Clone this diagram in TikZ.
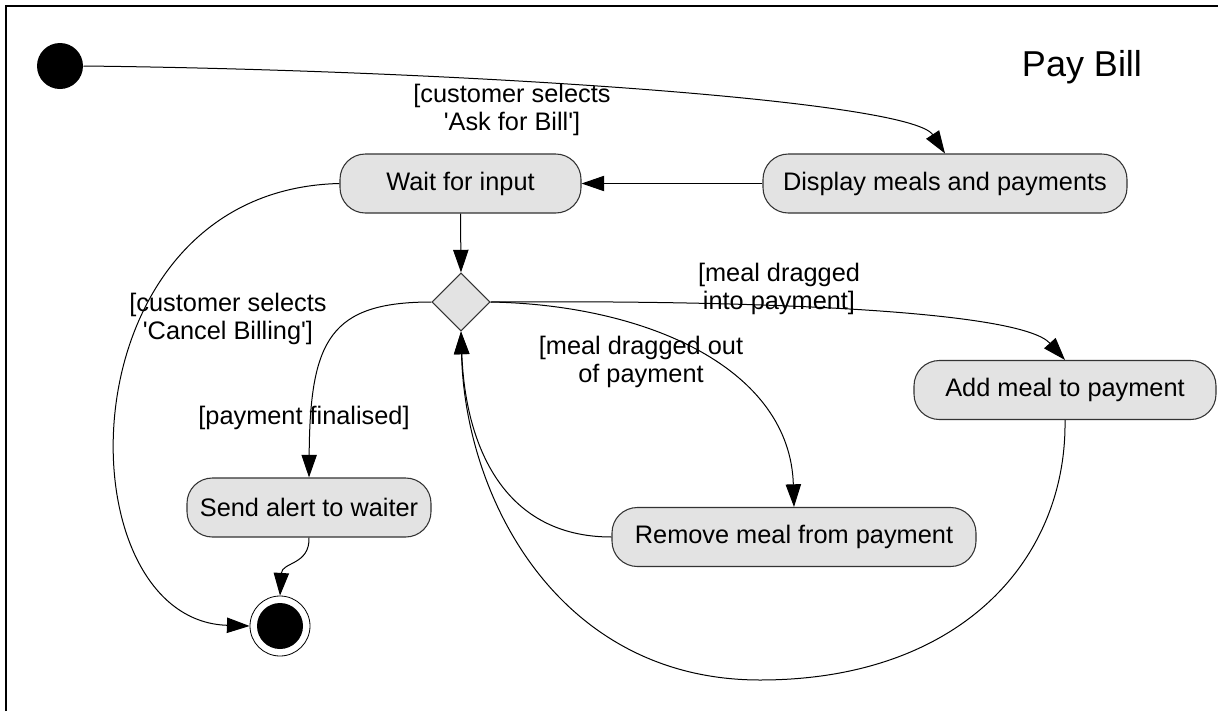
\documentclass[tikz,border=0pt]{standalone}
\usepackage{fontspec}
\setmainfont{Liberation Sans}
\usetikzlibrary{arrows.meta,shapes.geometric}

\tikzset{every picture/.style={line width=0.75pt}}
\tikzset{
  activity/.style={draw=black!80, line width=0.8pt, fill=black!11, rounded corners=19pt,
    minimum height=44.25pt, inner sep=0pt, font=\fontsize{19}{20.5}\selectfont},
  decision/.style={draw=black!80, line width=0.8pt, fill=black!11, diamond, aspect=1,
    minimum width=43.5pt, minimum height=43.5pt, inner sep=0pt},
  initstate/.style={circle, fill=black, minimum size=34.5pt, inner sep=0pt},
  endstate/.style={circle, draw, line width=0.6pt, minimum size=45pt, inner sep=0pt,
    path picture={\fill (path picture bounding box.center) circle (17.25pt);}},
  guard/.style={align=center, font=\fontsize{19}{20.5}\selectfont},
  flow/.style={-{Triangle[length=17pt,width=11.5pt]}}
}

\begin{document}
\begin{tikzpicture}[x=0.75pt,y=0.75pt,yscale=-1,xscale=1]
\useasboundingbox (0,0) rectangle (1218,711);

%Frame
\draw [line width=1.8pt] (6,711) -- (6,6) -- (1218,6) ;

%Shape: Circle
\node [initstate] (init) at (60,66) {};
%Shape: Circle
\node [endstate] (end) at (280,626) {};
%Shape: Diamond
\node [decision] (dec) at (461,302) {};

%Rounded Rect
\node [activity, minimum width=180.75pt] (wait) at (460.5,183.5) {Wait for input};
%Rounded Rect
\node [activity, minimum width=273pt] (disp) at (945,183.5) {Display meals and payments};
%Rounded Rect
\node [activity, minimum width=183pt] (send) at (309,507.5) {Send alert to waiter};
%Rounded Rect
\node [activity, minimum width=226.5pt] (add) at (1065,390) {Add meal to payment};
%Rounded Rect
\node [activity, minimum width=273pt] (rem) at (794,537) {Remove meal from payment};

%Curve Lines
\draw [flow] (init.east) .. controls (450,70) and (910,100) .. (disp.north) ;
%Straight Lines
\draw [flow] (disp.west) -- (wait.east) ;
%Straight Lines
\draw [flow] (wait.south) -- (dec.north) ;
%Curve Lines
\draw [flow] (wait.west) .. controls (60,190) and (60,620) .. (end.west) ;
%Curve Lines
\draw [flow] (dec.west) .. controls (330,302) and (310,340) .. (send.north) ;
%Curve Lines
\draw [flow] (send.south) .. controls (310,565) and (282,562) .. (end.north) ;
%Curve Lines
\draw [flow] (dec.east) .. controls (750,300) and (1020,310) .. (add.north) ;
%Curve Lines
\draw [flow] (dec.east) .. controls (650,305) and (790,370) .. (rem.north) ;
%Curve Lines
\draw [flow] (rem.west) .. controls (500,537) and (465,440) .. (dec.south) ;
%Curve Lines
\coordinate (low) at (760,680) ;
\draw [flow] (add.south) .. controls (1067,560) and (960,680) .. (low) .. controls (560,680) and (465,500) .. (dec.south) ;

% Text Node
\node [font=\fontsize{27}{30}\selectfont] (title) at (1082,67) {Pay Bill};
% Text Node
\node [guard] (askbill) at (512,110) {[customer selects\\\textquotesingle Ask for Bill\textquotesingle]};
% Text Node
\node [guard] (cancel) at (228,319) {[customer selects\\\textquotesingle Cancel Billing\textquotesingle]};
% Text Node
\node [guard] (final) at (304,418) {[payment finalised]};
% Text Node
\node [guard] (into) at (779,289) {[meal dragged\\into payment]};
% Text Node
\node [guard] (outof) at (641,362) {[meal dragged out\\of payment};

\end{tikzpicture}
\end{document}
